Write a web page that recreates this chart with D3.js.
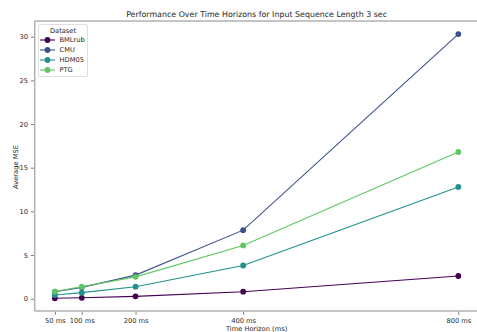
<!DOCTYPE html>
<html>
<head>
<meta charset="utf-8">
<script src="https://cdn.jsdelivr.net/npm/d3@7"></script>
<style>
  body { margin: 0; background: #fff; }
  svg text { font-family: "DejaVu Sans", sans-serif; fill: #262626; }
</style>
</head>
<body>
<div id="chart-area"></div>
<script>
// data
var horizons = [50, 100, 200, 400, 800];
var tickLabels = ["50 ms", "100 ms", "200 ms", "400 ms", "800 ms"];
var datasets = ["BMLrub", "CMU", "HDM05", "PTG"];
var bmlrub = [0.05, 0.1, 0.27, 0.8, 2.6];
var cmu = [0.8, 1.3, 2.7, 7.85, 30.3];
var hdm05 = [0.42, 0.69, 1.37, 3.8, 12.8];
var ptg = [0.82, 1.37, 2.5, 6.1, 16.8];
var colors = ["#440154", "#3b528b", "#21918c", "#5ec962"];
var yTicks = [0, 5, 10, 15, 20, 25, 30];

var series = [bmlrub, cmu, hdm05, ptg];

var W = 477, H = 332;
var margin = { left: 34.7, right: -1.5, top: 21, bottom: 21 };
var width = W - margin.left - margin.right,
    height = H - margin.top - margin.bottom;
var fs = "6.7px";

var svg = d3.select("#chart-area")
    .append("svg")
    .attr("width", W)
    .attr("height", H);

var g = svg.append("g")
    .attr("transform", "translate(" + margin.left + ", " + margin.top + ")");

// matplotlib-like 5% margins
var x = d3.scaleLinear()
    .domain([12.5, 837.5])
    .range([0, width]);

var y = d3.scaleLinear()
    .domain([-1.41, 31.8])
    .range([height, 0]);

// spines (left, bottom, top)
var spine = "#b0b0b0";
g.append("line").attr("x1", 0).attr("x2", 0).attr("y1", 0).attr("y2", height)
    .attr("stroke", spine).attr("stroke-width", 1.5);
g.append("line").attr("x1", 0).attr("x2", width).attr("y1", height).attr("y2", height)
    .attr("stroke", spine).attr("stroke-width", 1.5);
g.append("line").attr("x1", 0).attr("x2", width).attr("y1", 0).attr("y2", 0)
    .attr("stroke", spine).attr("stroke-width", 1.5);

// X axis
var xAxisCall = d3.axisBottom(x)
    .tickValues(horizons)
    .tickSize(3)
    .tickPadding(3)
    .tickFormat(function (d, i) { return tickLabels[i]; });
var xa = g.append("g")
    .attr("class", "x axis")
    .attr("transform", "translate(0, " + (height + 0.75) + ")")
    .call(xAxisCall);

// Y axis
var yAxisCall = d3.axisLeft(y)
    .tickValues(yTicks)
    .tickSize(3)
    .tickPadding(3);
var ya = g.append("g")
    .attr("class", "y axis")
    .attr("transform", "translate(-0.75, 0)")
    .call(yAxisCall);

[xa, ya].forEach(function (a) {
    a.select(".domain").remove();
    a.selectAll(".tick line").attr("stroke", "#262626").attr("stroke-width", 0.6);
    a.selectAll(".tick text").attr("font-size", fs).style("fill", "#262626");
});

// lines and points
var line = d3.line()
    .x(function (d, i) { return x(horizons[i]); })
    .y(function (d) { return y(d); });

series.forEach(function (s, k) {
    g.append("path")
        .datum(s)
        .attr("fill", "none")
        .attr("stroke", colors[k])
        .attr("stroke-width", 1.1)
        .attr("d", line);
    g.selectAll(".pt" + k)
        .data(s)
        .enter()
        .append("circle")
        .attr("class", "pt" + k)
        .attr("cx", function (d, i) { return x(horizons[i]); })
        .attr("cy", function (d) { return y(d); })
        .attr("r", 2.9)
        .attr("fill", colors[k]);
});

// Title
svg.append("text")
    .attr("x", margin.left + width / 2)
    .attr("y", 16.5)
    .attr("font-size", "7.9px")
    .attr("text-anchor", "middle")
    .text("Performance Over Time Horizons for Input Sequence Length 3 sec");

// X Label
svg.append("text")
    .attr("x", margin.left + width / 2)
    .attr("y", 331.3)
    .attr("font-size", fs)
    .attr("text-anchor", "middle")
    .text("Time Horizon (ms)");

// Y Label
svg.append("text")
    .attr("x", -(margin.top + 146))
    .attr("y", 17.5)
    .attr("font-size", fs)
    .attr("text-anchor", "middle")
    .attr("transform", "rotate(-90)")
    .text("Average MSE");

// Legend
var lg = svg.append("g").attr("transform", "translate(38.5, 24.5)");
lg.append("rect")
    .attr("width", 49)
    .attr("height", 52)
    .attr("rx", 1.5)
    .attr("fill", "#fff")
    .attr("fill-opacity", 0.8)
    .attr("stroke", "#d6d6d6")
    .attr("stroke-width", 0.8);
lg.append("text")
    .attr("x", 24.5)
    .attr("y", 8.3)
    .attr("font-size", fs)
    .attr("text-anchor", "middle")
    .text("Dataset");
datasets.forEach(function (name, k) {
    var yy = 15.5 + k * 10;
    lg.append("line")
        .attr("x1", 1.5).attr("x2", 16.5)
        .attr("y1", yy).attr("y2", yy)
        .attr("stroke", colors[k]).attr("stroke-width", 1.1);
    lg.append("circle")
        .attr("cx", 9).attr("cy", yy).attr("r", 2.9)
        .attr("fill", colors[k]);
    lg.append("text")
        .attr("x", 21)
        .attr("y", yy + 2.4)
        .attr("font-size", fs)
        .text(name);
});
</script>
</body>
</html>
